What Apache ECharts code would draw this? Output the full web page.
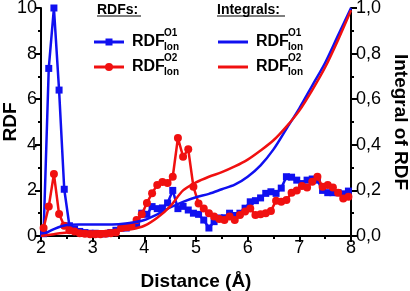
<!DOCTYPE html>
<html><head><meta charset="utf-8">
<script src="https://cdn.jsdelivr.net/npm/echarts@6/dist/echarts.min.js"></script>
<style>html,body{margin:0;padding:0;background:#fff}#c{width:410px;height:291px}</style>
</head><body><div id="c"></div>
<script>
// RDF sample distances (Å)
const distance = [2.05,2.15,2.25,2.35,2.45,2.55,2.65,2.75,2.85,2.95,
  3.05,3.15,3.25,3.35,3.45,3.55,3.65,3.75,3.85,3.95,
  4.05,4.15,4.25,4.35,4.45,4.55,4.65,4.75,4.85,4.95,
  5.05,5.15,5.25,5.35,5.45,5.55,5.65,5.75,5.85,5.95,
  6.05,6.15,6.25,6.35,6.45,6.55,6.65,6.75,6.85,6.95,
  7.05,7.15,7.25,7.35,7.45,7.55,7.65,7.75,7.85,7.95];
const rdfO1 = [0.1,7.35,10.0,6.4,2.05,0.45,0.3,0.2,0.15,0.12,
  0.12,0.1,0.1,0.15,0.25,0.35,0.35,0.45,0.5,1.0,
  0.95,1.29,1.2,1.23,1.45,2.0,1.2,1.3,1.14,1.0,
  0.95,0.7,0.35,0.63,0.79,0.8,1.0,0.9,1.0,1.22,
  1.5,1.55,1.67,1.87,1.94,1.87,2.1,2.6,2.58,2.45,
  2.3,2.45,2.5,2.45,2.0,1.9,1.9,1.9,1.85,1.97];
const rdfO2 = [0.35,1.29,2.72,0.96,0.45,0.25,0.2,0.12,0.1,0.08,
  0.08,0.08,0.1,0.12,0.15,0.35,0.4,0.45,0.7,0.95,
  1.45,1.88,2.24,2.37,2.32,2.6,4.3,3.48,3.8,2.16,
  1.43,1.21,1.0,0.85,0.75,0.7,0.85,0.7,0.92,1.07,
  1.21,0.92,0.95,1.0,1.1,1.55,1.5,1.58,1.9,2.0,
  2.19,2.13,2.38,2.6,2.16,2.24,2.13,1.9,1.65,1.72];
// Integral sample distances (Å)
const intDistance = [2.0,2.25,2.5,2.75,3.0,3.25,3.5,3.75,4.0,4.25,4.5,4.75,5.0,
  5.25,5.5,5.75,6.0,6.25,6.5,6.75,7.0,7.25,7.5,7.75,8.0];
const intO1 = [0,0.03,0.048,0.05,0.05,0.05,0.052,0.058,0.07,0.095,0.125,0.15,0.17,
  0.185,0.205,0.225,0.26,0.31,0.38,0.47,0.56,0.66,0.76,0.88,1.0];
const intO2 = [0,0.008,0.015,0.018,0.02,0.022,0.025,0.03,0.045,0.08,0.13,0.2,0.235,
  0.26,0.28,0.305,0.335,0.375,0.42,0.48,0.55,0.64,0.74,0.86,0.99];
const xTicks = [2,3,4,5,6,7,8];
const leftTicks = [0,2,4,6,8,10];
const rightTicks = ['0,0','0,2','0,4','0,6','0,8','1,0'];

const BLUE = '#1010f0', RED = '#f01010';
const FONT = '"Liberation Sans", Arial, sans-serif';
const zip = (xs, ys) => xs.map((x, i) => [x, ys[i]]);

const axisCommon = {
  nameMoveOverlap: false,
  axisLine: {show: true, lineStyle: {color: '#000', width: 2}},
  axisTick: {show: true, inside: false, length: 6, lineStyle: {color: '#000', width: 2}},
  minorTick: {show: true, splitNumber: 2, length: 3, lineStyle: {color: '#000', width: 2}},
  splitLine: {show: false},
  axisLabel: {color: '#000', fontSize: 18, fontFamily: FONT}
};

const chart = echarts.init(document.getElementById('c'), null, {renderer: 'canvas'});

function legendEntry(x, y, color, sym, sup) {
  const els = [
    {type: 'line', shape: {x1: x, y1: y, x2: x + 30, y2: y}, style: {stroke: color, lineWidth: 3}}
  ];
  if (sym === 'rect') els.push({type: 'rect', shape: {x: x + 11.5, y: y - 3.5, width: 7, height: 7}, style: {fill: color}});
  if (sym === 'circle') els.push({type: 'circle', shape: {cx: x + 15, cy: y, r: 4}, style: {fill: color}});
  els.push({type: 'text', x: x + 38, y: y, style: {text: 'RDF', font: 'bold 16px ' + FONT, fill: '#000', verticalAlign: 'middle'}});
  els.push({type: 'text', x: x + 70, y: y - 9, style: {text: sup, font: 'bold 10px ' + FONT, fill: '#000', verticalAlign: 'middle'}});
  els.push({type: 'text', x: x + 70, y: y + 5, style: {text: 'Ion', font: 'bold 10px ' + FONT, fill: '#000', verticalAlign: 'middle'}});
  return els;
}

const graphics = [].concat(
  [{type: 'text', x: 97, y: 10, style: {text: 'RDFs:', font: 'bold 14px ' + FONT, fill: '#000', verticalAlign: 'middle'}},
   {type: 'line', shape: {x1: 97, y1: 16, x2: 141, y2: 16}, style: {stroke: '#000', lineWidth: 1.2}},
   {type: 'text', x: 217, y: 10, style: {text: 'Integrals:', font: 'bold 14px ' + FONT, fill: '#000', verticalAlign: 'middle'}},
   {type: 'line', shape: {x1: 217, y1: 16, x2: 285, y2: 16}, style: {stroke: '#000', lineWidth: 1.2}}],
  legendEntry(94, 42, BLUE, 'rect', 'O1'),
  legendEntry(94, 67, RED, 'circle', 'O2'),
  legendEntry(218, 42, BLUE, 'none', 'O1'),
  legendEntry(218, 67, RED, 'none', 'O2')
);

chart.setOption({
  animation: false,
  backgroundColor: '#fff',
  grid: {left: 41, right: 59, top: 8, bottom: 55, containLabel: false, outerBoundsMode: 'none'},
  xAxis: Object.assign({}, axisCommon, {
    type: 'value', min: xTicks[0], max: xTicks[xTicks.length - 1], interval: 1,
    name: 'Distance (Å)', nameLocation: 'middle', nameGap: 36,
    nameTextStyle: {color: '#000', fontSize: 19, fontWeight: 'bold', fontFamily: FONT},
    axisLabel: Object.assign({}, axisCommon.axisLabel, {margin: 3})
  }),
  yAxis: [
    Object.assign({}, axisCommon, {
      type: 'value', min: leftTicks[0], max: leftTicks[leftTicks.length - 1], interval: 2,
      name: 'RDF', nameLocation: 'middle', nameGap: 21,
      nameTextStyle: {color: '#000', fontSize: 19, fontWeight: 'bold', fontFamily: FONT},
      axisLabel: Object.assign({}, axisCommon.axisLabel, {margin: 4})
    }),
    Object.assign({}, axisCommon, {
      type: 'value', min: 0, max: 1, interval: 0.2, position: 'right',
      name: 'Integral of RDF', nameLocation: 'middle', nameGap: 40, nameRotate: -90,
      nameTextStyle: {color: '#000', fontSize: 19, fontWeight: 'bold', fontFamily: FONT},
      axisLabel: Object.assign({}, axisCommon.axisLabel, {margin: 5,
        formatter: v => rightTicks[Math.round(v * 5)]})
    })
  ],
  series: [
    {name: 'RDF O1', type: 'line', yAxisIndex: 0, data: zip(distance, rdfO1),
     symbol: 'rect', symbolSize: 7, lineStyle: {color: BLUE, width: 2.5}, itemStyle: {color: BLUE}, z: 3},
    {name: 'RDF O2', type: 'line', yAxisIndex: 0, data: zip(distance, rdfO2),
     symbol: 'circle', symbolSize: 8, lineStyle: {color: RED, width: 2.5}, itemStyle: {color: RED}, z: 4},
    {name: 'Int O1', type: 'line', yAxisIndex: 1, data: zip(intDistance, intO1), smooth: 0.3,
     showSymbol: false, symbol: 'none', lineStyle: {color: BLUE, width: 2.5}, z: 5},
    {name: 'Int O2', type: 'line', yAxisIndex: 1, data: zip(intDistance, intO2), smooth: 0.3,
     showSymbol: false, symbol: 'none', lineStyle: {color: RED, width: 2.5}, z: 6}
  ],
  graphic: graphics
});
</script></body></html>
